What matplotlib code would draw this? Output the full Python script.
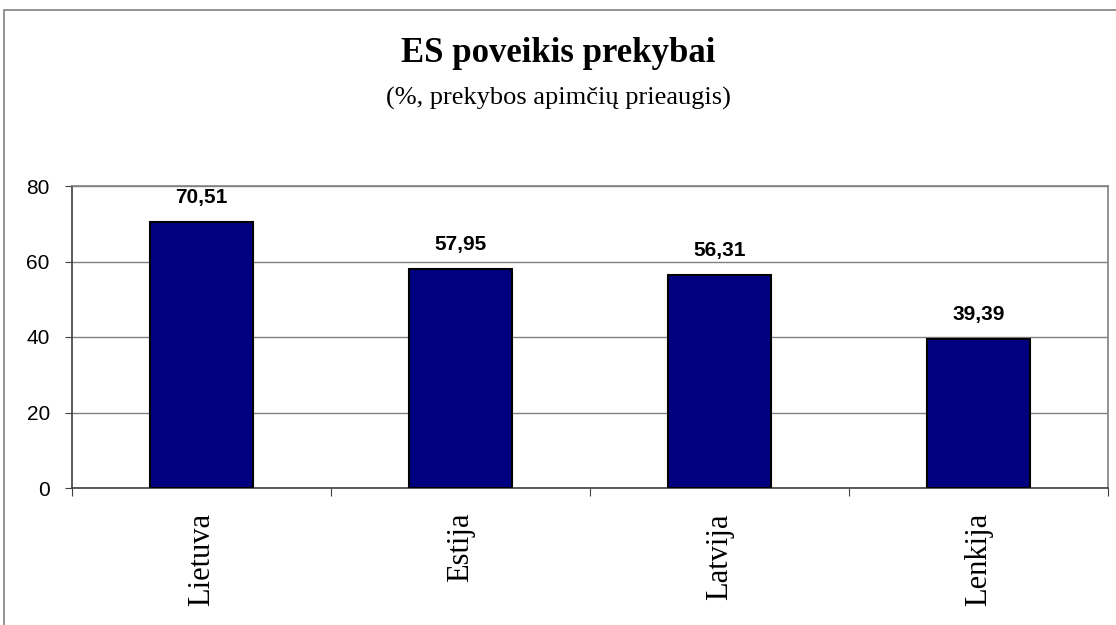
import matplotlib
matplotlib.use('Agg')
import matplotlib.pyplot as plt
from matplotlib.patches import Rectangle

countries = ['Lietuva', 'Estija', 'Latvija', 'Lenkija']
values = [70.51, 57.95, 56.31, 39.39]
y_ticks = [0, 20, 40, 60, 80]

W, H = 1116, 625
fig = plt.figure(figsize=(W / 100, H / 100), dpi=100)
fig.patch.set_facecolor('white')

# outer chart frame (clipped at right and bottom like the original)
fig.patches.append(Rectangle((4 / W, -0.05), 1.2, 1 - 10 / H + 0.05,
                             transform=fig.transFigure, fill=False,
                             edgecolor='#808080', linewidth=1.2))

ax = fig.add_axes([72 / W, 1 - 488 / H, (1108 - 72) / W, (488 - 186) / H])
x = range(len(countries))
ax.bar(x, values, width=0.4, color='#000080', edgecolor='black', linewidth=1.5, zorder=3)
for xi, v in zip(x, values):
    ax.text(xi, v + 4, f'{v:.2f}'.replace('.', ','), ha='center', va='bottom',
            fontsize=15, fontweight='bold', family='Liberation Sans')

ax.set_xlim(-0.5, len(countries) - 0.5)
ax.set_ylim(0, 80)
ax.set_yticks(y_ticks)
ax.set_yticklabels([str(t) for t in y_ticks], family='Liberation Sans', fontsize=15)
ax.yaxis.grid(True, color='#808080', linewidth=1, zorder=0)
ax.set_xticks([i + 0.5 for i in range(-1, len(countries))], minor=False)
ax.set_xticklabels([])
ax.set_xticks(list(x), minor=True)
ax.set_xticklabels(countries, minor=True, rotation=90, family='Liberation Serif',
                   fontsize=22)
ax.tick_params(axis='x', which='minor', length=0, pad=18)
ax.tick_params(axis='x', which='major', length=6, direction='out', color='#404040')
ax.tick_params(axis='y', length=5, direction='out', color='#404040', pad=11)
for s in ['left', 'bottom']:
    ax.spines[s].set_color('#404040')
for s in ['top', 'right']:
    ax.spines[s].set_color('#808080')
for s in ax.spines.values():
    s.set_linewidth(1.2)

fig.text(0.5, 1 - 54 / H, 'ES poveikis prekybai', ha='center', va='center',
         family='Liberation Serif', fontweight='bold', fontsize=25)
fig.text(0.5, 1 - 98 / H, '(%, prekybos apimčių prieaugis)', ha='center', va='center',
         family='Liberation Serif', fontsize=19)

fig.savefig('out.png', dpi=100)
